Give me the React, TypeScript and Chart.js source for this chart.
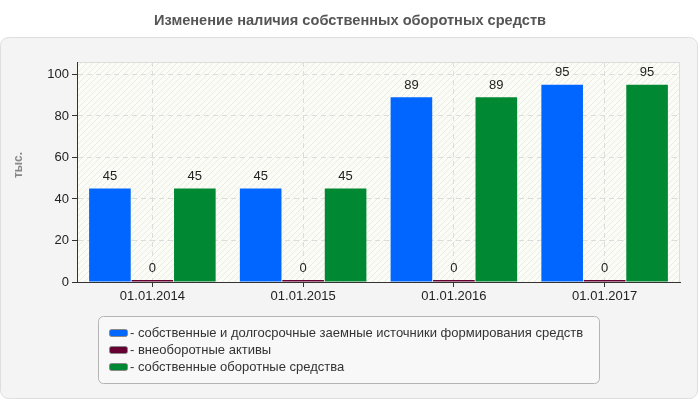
import React, { useEffect, useRef } from 'react';
import { Chart, registerables } from 'chart.js';

Chart.register(...registerables);

const chartTitle = 'Изменение наличия собственных оборотных средств';
const yAxisTitle = 'тыс.';
const categories = ['01.01.2014', '01.01.2015', '01.01.2016', '01.01.2017'];
const ownAndLongTermSources = [45, 45, 89, 95];
const nonCurrentAssets = [0, 0, 0, 0];
const ownWorkingCapital = [45, 45, 89, 95];
const seriesLabels = [
  'собственные и долгосрочные заемные источники формирования средств',
  'внеоборотные активы',
  'собственные оборотные средства',
];
const seriesColors = ['#0066ff', '#660033', '#008833'];
const yTicks = [0, 20, 40, 60, 80, 100];

const FONT = 'Arial, "Liberation Sans", sans-serif';

function makePattern(ctx: CanvasRenderingContext2D) {
  const c = document.createElement('canvas');
  c.width = 6;
  c.height = 6;
  const p = c.getContext('2d')!;
  p.fillStyle = '#fcfcf7';
  p.fillRect(0, 0, 6, 6);
  p.strokeStyle = '#ebebe6';
  p.lineWidth = 1;
  p.beginPath();
  p.moveTo(0, 6);
  p.lineTo(6, 0);
  p.moveTo(-3, 3);
  p.lineTo(3, -3);
  p.moveTo(3, 9);
  p.lineTo(9, 3);
  p.stroke();
  return ctx.createPattern(c, 'repeat');
}

const backgroundPlugin = {
  id: 'bgPanel',
  beforeDraw(chart: any) {
    const { ctx, chartArea } = chart;
    ctx.save();
    ctx.fillStyle = '#555555';
    ctx.font = `bold 14.6px ${FONT}`;
    ctx.textAlign = 'center';
    ctx.textBaseline = 'middle';
    ctx.fillText(chartTitle, 350, 21);
    ctx.beginPath();
    ctx.roundRect(0.5, 37.5, 697, 361, 8);
    ctx.fillStyle = '#f4f4f4';
    ctx.fill();
    ctx.strokeStyle = '#dedede';
    ctx.lineWidth = 1;
    ctx.stroke();
    const pat = makePattern(ctx);
    ctx.fillStyle = pat || '#fcfcf7';
    ctx.fillRect(chartArea.left, chartArea.top, chartArea.right - chartArea.left, chartArea.bottom - chartArea.top);
    ctx.strokeStyle = '#dddddd';
    ctx.strokeRect(chartArea.left + 0.5, chartArea.top + 0.5, chartArea.right - chartArea.left - 1, chartArea.bottom - chartArea.top);
    ctx.save();
    ctx.translate(19, 165);
    ctx.rotate(-Math.PI / 2);
    ctx.fillStyle = '#888888';
    ctx.font = `bold 12px ${FONT}`;
    ctx.fillText(yAxisTitle, 0, 0);
    ctx.restore();
    ctx.restore();
  },
};

const labelsPlugin = {
  id: 'valueLabels',
  afterDatasetsDraw(chart: any) {
    const { ctx } = chart;
    ctx.save();
    ctx.font = `13px ${FONT}`;
    ctx.fillStyle = '#222222';
    ctx.textAlign = 'center';
    ctx.textBaseline = 'middle';
    chart.data.datasets.forEach((ds: any, i: number) => {
      const meta = chart.getDatasetMeta(i);
      meta.data.forEach((bar: any, j: number) => {
        ctx.fillText(String(ds.data[j]), bar.x, bar.y - 12);
      });
    });
    ctx.restore();
  },
};

const legendPlugin = {
  id: 'boxLegend',
  afterDraw(chart: any) {
    const { ctx } = chart;
    ctx.save();
    ctx.beginPath();
    ctx.roundRect(98.5, 316.5, 501, 67, 5);
    ctx.fillStyle = '#f8f8f8';
    ctx.fill();
    ctx.strokeStyle = '#b4b4b4';
    ctx.lineWidth = 1;
    ctx.stroke();
    ctx.font = `13px ${FONT}`;
    ctx.textBaseline = 'middle';
    ctx.textAlign = 'left';
    chart.data.datasets.forEach((ds: any, i: number) => {
      const y = 333 + i * 17;
      ctx.beginPath();
      ctx.roundRect(109.5, y - 3.5, 18, 7, 2);
      ctx.fillStyle = ds.backgroundColor;
      ctx.fill();
      ctx.strokeStyle = '#888888';
      ctx.stroke();
      ctx.fillStyle = '#333333';
      ctx.fillText('- ' + ds.label, 130, y);
    });
    ctx.restore();
  },
};

export default function App() {
  const ref = useRef<HTMLCanvasElement>(null);
  useEffect(() => {
    document.body.style.margin = '0';
    const series = [ownAndLongTermSources, nonCurrentAssets, ownWorkingCapital];
    const chart = new Chart(ref.current!, {
      type: 'bar',
      data: {
        labels: categories,
        datasets: series.map((d, i) => ({
          label: seriesLabels[i],
          data: d,
          backgroundColor: seriesColors[i],
          borderWidth: 0,
          minBarLength: 2,
          barPercentage: 0.98,
          categoryPercentage: 0.845,
        })),
      },
      options: {
        responsive: false,
        animation: false,
        layout: { padding: { top: 62, right: 20, left: 0, bottom: 0 } },
        plugins: {
          legend: { display: false },
          tooltip: { enabled: false },
          title: { display: false },
        },
        scales: {
          x: {
            grid: {
              offset: false,
              color: '#dcdcdc',
              tickBorderDash: [1, 0],
              tickColor: '#333333',
              tickLength: 5,
            } as any,
            border: { color: '#333333', width: 1, dash: [5, 4] },
            ticks: { color: '#222222', font: { family: FONT, size: 13 }, padding: 2, maxRotation: 0 },
            afterFit(scale: any) {
              scale.height = 118;
            },
          },
          y: {
            min: 0,
            max: 106,
            grid: {
              color: '#dcdcdc',
              tickBorderDash: [1, 0],
              tickColor: '#333333',
              tickLength: 5,
            } as any,
            border: { color: '#333333', width: 1, dash: [5, 4] },
            ticks: { color: '#222222', font: { family: FONT, size: 13 }, padding: 3, includeBounds: false },
            afterBuildTicks(scale: any) {
              scale.ticks = yTicks.map((v) => ({ value: v }));
            },
            afterFit(scale: any) {
              scale.width = 77;
            },
          },
        },
      },
      plugins: [backgroundPlugin, labelsPlugin, legendPlugin],
    });
    return () => chart.destroy();
  }, []);
  return (
    <div style={{ width: 700, height: 400 }}>
      <canvas ref={ref} width={700} height={400} style={{ display: 'block' }} />
    </div>
  );
}
